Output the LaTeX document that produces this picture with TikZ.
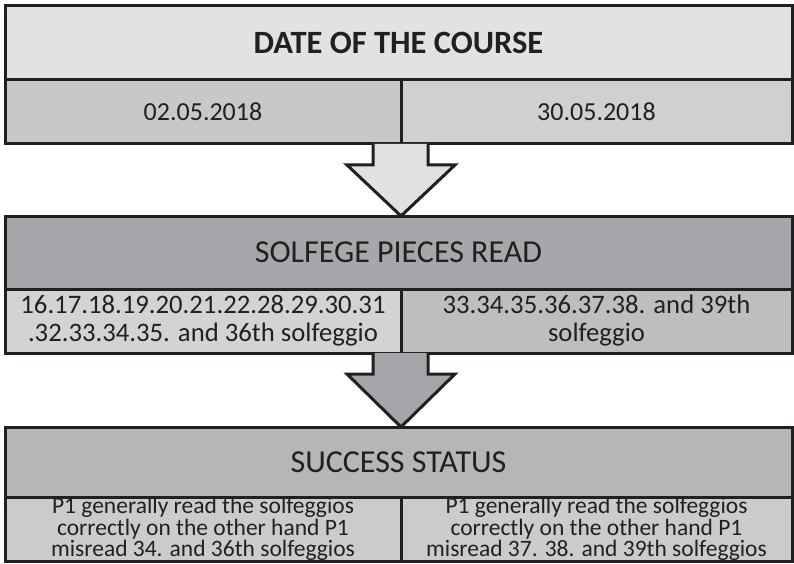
\documentclass[tikz,border=0pt]{standalone}
\usepackage{fontspec}
\setmainfont{Carlito}
\usetikzlibrary{calc}
\definecolor{ink}{HTML}{231F20}
\definecolor{hdrA}{HTML}{E1E2E4}
\definecolor{rowA}{HTML}{C7C8CA}
\definecolor{hdrB}{HTML}{A6A7AA}
\definecolor{rowBl}{HTML}{D2D3D5}
\definecolor{rowBr}{HTML}{BDBEC0}
\definecolor{hdrC}{HTML}{B5B6B8}
\definecolor{rowC}{HTML}{CACBCD}
\definecolor{arrA}{HTML}{E0E1E3}
\definecolor{arrB}{HTML}{A5A6A9}
\tikzset{
  cell/.style={draw=ink, line width=3pt, rectangle, inner sep=0pt, outer sep=0pt,
    anchor=north west, align=center, text=ink},
  blockarrow/.style={draw=ink, line width=3pt, line join=miter},
}
\begin{document}
\begin{tikzpicture}[x=1pt,y=-1pt]
\useasboundingbox (0,0) rectangle (794,564);
% box 1
\node[cell, fill=hdrA, minimum width=787pt, minimum height=74pt,
  font=\fontsize{32.5}{34}\selectfont\bfseries] (h1) at (5,6) {DATE OF THE COURSE};
\node[cell, fill=rowA, minimum width=396pt, minimum height=64pt,
  font=\fontsize{26}{28}\selectfont] (d1) at (5,80) {02.05.2018};
\node[cell, fill=rowA!85!white, minimum width=391pt, minimum height=64pt,
  font=\fontsize{26}{28}\selectfont] (d2) at (401,80) {30.05.2018};
% box 2
\node[cell, fill=hdrB, minimum width=787pt, minimum height=73pt,
  font=\fontsize{32}{34}\selectfont] (h2) at (5,216) {SOLFEGE PIECES READ};
\node[cell, fill=rowBl, minimum width=396pt, minimum height=64pt,
  font=\fontsize{26.7}{28}\selectfont] (p1) at (5,289)
  {16.17.18.19.20.21.22.28.29.30.31\\.32.33.34.35. and 36th solfeggio};
\node[cell, fill=rowBr, minimum width=391pt, minimum height=64pt,
  font=\fontsize{26.7}{28}\selectfont] (p2) at (401,289)
  {33.34.35.36.37.38. and 39th\\solfeggio};
% box 3
\node[cell, fill=hdrC, minimum width=787pt, minimum height=70pt,
  font=\fontsize{32}{34}\selectfont] (h3) at (5,427) {SUCCESS STATUS};
\node[cell, fill=rowC, minimum width=396pt, minimum height=64pt,
  font=\fontsize{23.5}{21.5}\selectfont] (s1) at (5,497)
  {P1 generally read the solfeggios\\correctly on the other hand P1\\misread 34. and 36th solfeggios};
\node[cell, fill=rowC, minimum width=391pt, minimum height=64pt,
  font=\fontsize{23.5}{21.5}\selectfont] (s2) at (401,497)
  {P1 generally read the solfeggios\\correctly on the other hand P1\\misread 37. 38. and 39th solfeggios};
% arrows
\coordinate (a1) at (d1.south east);
\coordinate (t1) at (h2.north -| a1);
\draw[blockarrow, fill=arrA]
  ($(a1)+(-28,0)$) -- ($(a1)+(-28,21)$) -- ($(a1)+(-54,21)$) -- (t1)
  -- ($(a1)+(54,21)$) -- ($(a1)+(27,21)$) -- ($(a1)+(27,0)$);
\coordinate (a2) at (p1.south east);
\coordinate (t2) at (h3.north -| a2);
\draw[blockarrow, fill=arrB]
  ($(a2)+(-28,0)$) -- ($(a2)+(-28,21)$) -- ($(a2)+(-54,21)$) -- (t2)
  -- ($(a2)+(54,21)$) -- ($(a2)+(27,21)$) -- ($(a2)+(27,0)$);
\end{tikzpicture}
\end{document}
